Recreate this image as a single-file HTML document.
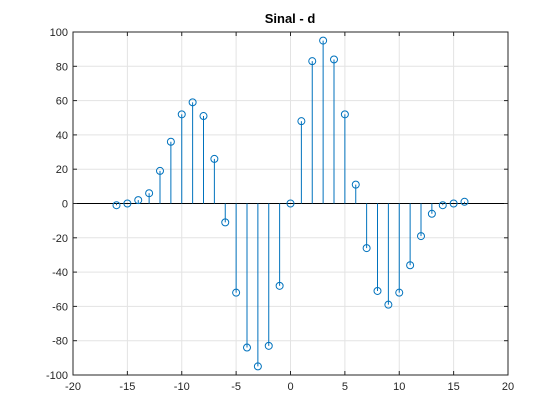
<!DOCTYPE html>
<html><head><meta charset="utf-8"><style>
body{margin:0;background:#fff;}
svg{display:block;font-family:"Liberation Sans",Arial,sans-serif;}
</style></head><body>
<svg id="chart" width="560" height="420">
<rect width="560" height="420" fill="#fff"/>
<rect x="73" y="32" width="435" height="343" fill="#fff" stroke="none"/>
<g id="grid"></g><g id="stems"></g><g id="axes"></g>
<text x="290" y="23" text-anchor="middle" font-size="13" font-weight="bold" fill="#000">Sinal - d</text>
</svg>
<script>
const nValues=[-16,-15,-14,-13,-12,-11,-10,-9,-8,-7,-6,-5,-4,-3,-2,-1,0,1,2,3,4,5,6,7,8,9,10,11,12,13,14,15,16];
const dValues=[-1,0,2,6,19,36,52,59,51,26,-11,-52,-84,-95,-83,-48,0,48,83,95,84,52,11,-26,-51,-59,-52,-36,-19,-6,-1,0,1];
const xTicks=[-20,-15,-10,-5,0,5,10,15,20];
const yTicks=[-100,-80,-60,-40,-20,0,20,40,60,80,100];
const L=73,R=508,T=32,B=375;
const xs=v=>L+(v+20)/40*(R-L);
const ys=v=>B-(v+100)/200*(B-T);
const NS="http://www.w3.org/2000/svg";
function mk(t,a,p){const e=document.createElementNS(NS,t);for(const k in a)e.setAttribute(k,a[k]);p.appendChild(e);return e;}
const g=document.getElementById('grid'),st=document.getElementById('stems'),ax=document.getElementById('axes');
xTicks.forEach(v=>{
 const l=mk('line',{x1:xs(v),x2:xs(v),y1:T,y2:B,stroke:'#e3e3e3','stroke-width':1},g);
 
 
 const t=mk('text',{x:xs(v),y:B+15,'text-anchor':'middle','font-size':11,fill:'#262626'},ax);t.textContent=v;
 
 
 mk('line',{x1:xs(v),x2:xs(v),y1:B,y2:B-4,stroke:'#262626'},ax);
 mk('line',{x1:xs(v),x2:xs(v),y1:T,y2:T+4,stroke:'#262626'},ax);
});
yTicks.forEach(v=>{
 const l=mk('line',{x1:L,x2:R,y1:ys(v),y2:ys(v),stroke:'#e3e3e3','stroke-width':1},g);
 
 
 const t=mk('text',{x:L-5,y:ys(v)+4,'text-anchor':'end','font-size':11,fill:'#262626'},ax);t.textContent=v;
 
 
 mk('line',{x1:L,x2:L+4,y1:ys(v),y2:ys(v),stroke:'#262626'},ax);
 mk('line',{x1:R,x2:R-4,y1:ys(v),y2:ys(v),stroke:'#262626'},ax);
});
const base=mk('line',{x1:L,x2:R,y1:ys(0),y2:ys(0),stroke:'#000','stroke-width':1},st);


nValues.forEach((n,i)=>{
 const l=mk('line',{x1:xs(n),x2:xs(n),y1:ys(0),y2:ys(dValues[i]),stroke:'#0072bd','stroke-width':1},st);
 
 
 const c=mk('circle',{cx:xs(n),cy:ys(dValues[i]),r:3.5,fill:'none',stroke:'#0072bd','stroke-width':1},st);
 
 
});
const box=mk('rect',{x:L,y:T,width:R-L,height:B-T,fill:'none',stroke:'#262626','stroke-width':1},ax);


</script>
</body></html>
